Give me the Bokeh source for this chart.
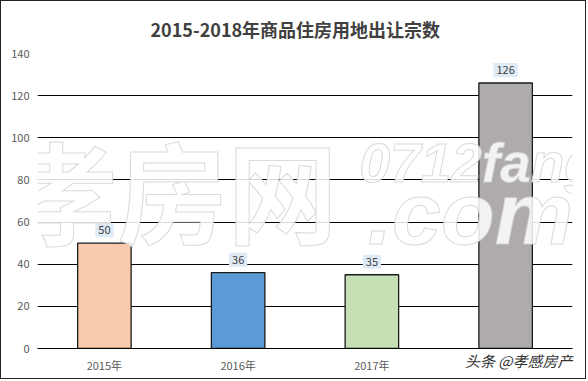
from bokeh.plotting import figure
from bokeh.models import Range1d, ColumnDataSource, Label, FixedTicker, Title
from bokeh.core.properties import value
from bokeh.embed import file_html
from bokeh.resources import INLINE

categories = ["2015年", "2016年", "2017年", "2018年"]
counts = [50, 36, 35, 126]
bar_colors = ["#F8CBAD", "#5B9BD5", "#C5E0B4", "#AFABAB"]
y_ticks = [0, 20, 40, 60, 80, 100, 120, 140]
title_text = "2015-2018年商品住房用地出让宗数"
source_text = "头条 @孝感房产"

FONT = "Noto Sans CJK SC"

src = ColumnDataSource(dict(cat=categories, val=counts, color=bar_colors,
                            lbl=[str(v) for v in counts]))

p = figure(x_range=categories, y_range=Range1d(0, 140), width=586, height=379,
           output_backend="svg", toolbar_location=None,
           min_border_left=36, min_border_right=15, min_border_top=50, min_border_bottom=32)
p.styles = {"border": "1px solid #222"}

p.title.text = title_text
p.title.align = "left"
p.title.offset = 113
p.title.standoff = 24
p.title.text_font = FONT
p.title.text_font_size = "18px"
p.title.text_font_style = "bold"
p.title.text_color = "#404040"

p.vbar(x="cat", top="val", width=0.4, source=src, fill_color="color",
       line_color="#1a1a1a", line_width=1.3)

# watermark (white, semi-opaque, faint grey edge)
wm = dict(x_units="screen", y_units="screen", text_color="#ffffff", text_alpha=0.85,
          text_outline_color="#d4d4d4", text_font_style="bold italic",
          text_baseline="alphabetic")
p.add_layout(Label(x=-30, y=161, text="孝房网", text_font=FONT, text_font_size="110px",
                   **{**wm, "text_font_style": "bold"}))
p.add_layout(Label(x=322, y=186, text="0712fang", text_font="Liberation Sans",
                   text_font_size="55px", **wm))
p.add_layout(Label(x=330, y=135, text=".com", text_font="Liberation Sans",
                   text_font_size="88px", **wm))

p.text(x="cat", y="val", text="lbl", source=src, y_offset=-6,
       text_align="center", text_baseline="bottom",
       text_font=value(FONT), text_font_size="11px",
       text_color="#404040", background_fill_color="#DEEBF7",
       padding=3)

p.xgrid.grid_line_color = None
p.ygrid.grid_line_color = "#000000"
p.ygrid.grid_line_width = 1
p.yaxis.ticker = FixedTicker(ticks=y_ticks)
p.yaxis.axis_line_color = None
p.yaxis.major_tick_line_color = None
p.yaxis.minor_tick_line_color = None
p.yaxis.major_label_standoff = 2
p.yaxis.major_label_text_font = FONT
p.yaxis.major_label_text_font_size = "11px"
p.yaxis.major_label_text_color = "#595959"
p.xaxis.axis_line_color = "#000000"
p.xaxis.major_tick_line_color = None
p.xaxis.major_tick_out = 0
p.xaxis.major_label_standoff = 8
p.xaxis.major_label_text_font = FONT
p.xaxis.major_label_text_font_size = "11px"
p.xaxis.major_label_text_color = "#595959"
p.outline_line_color = None
p.x_range.range_padding = 0

src_title = Title(text=source_text, align="right", vertical_align="top", standoff=-52,
                  text_font=FONT, text_font_size="15px", text_font_style="italic",
                  text_color="#333333", background_fill_color="#ffffff")
p.add_layout(src_title, "below")

open("out.html", "w").write(file_html(p, INLINE))
